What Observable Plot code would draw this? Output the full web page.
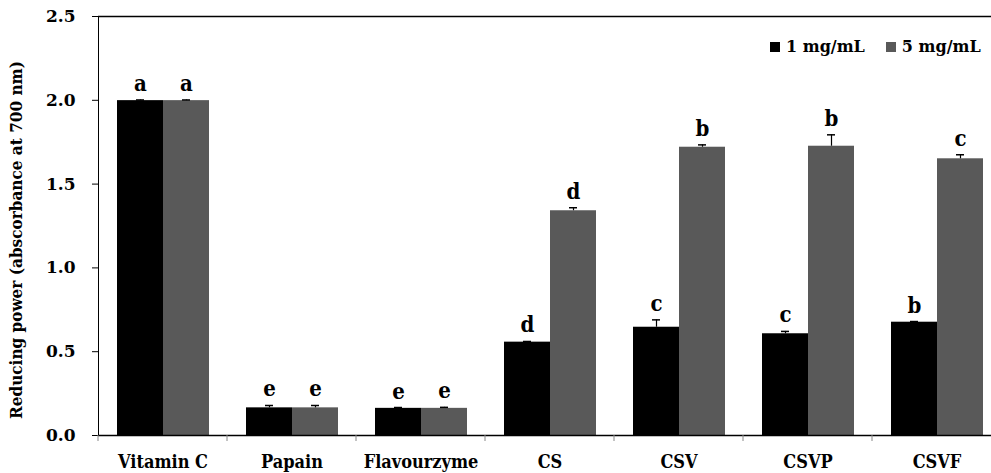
<!DOCTYPE html>
<html>
<head>
<meta charset="utf-8">
<script src="https://cdn.jsdelivr.net/npm/d3@7"></script>
<script src="https://cdn.jsdelivr.net/npm/@observablehq/plot@0.6"></script>
<style>
  html, body { margin: 0; padding: 0; background: #fff; overflow: hidden; }
  #wrap { position: relative; width: 991px; height: 473px; font-family: "DejaVu Serif", serif; font-weight: bold; }
  #ylabel { position: absolute; left: 16px; top: 240px; transform: translate(-50%, -50%) rotate(-90deg); white-space: nowrap; font-family: "DejaVu Serif Condensed", "DejaVu Serif", serif; font-size: 17px; color: #000; }
  #legend { position: absolute; left: 770px; top: 37px; font-size: 16px; white-space: nowrap; display: flex; align-items: center; }
  #legend .sw { display: inline-block; width: 10px; height: 10px; margin-right: 6px; }
  #legend .item { display: flex; align-items: center; margin-right: 21px; }
  svg g[aria-label^="fx-axis"], svg g[aria-label^="fx-axis"] text { font-family: "DejaVu Serif Condensed", "DejaVu Serif", serif; font-size: 18px; }
</style>
</head>
<body>
<div id="wrap">
  <div id="chart"></div>
  <div id="ylabel">Reducing power (abscorbance at 700 nm)</div>
  <div id="legend"></div>
</div>
<script>
const categories = ["Vitamin C", "Papain", "Flavourzyme", "CS", "CSV", "CSVP", "CSVF"];
const series = ["1 mg/mL", "5 mg/mL"];
const seriesColors = ["#000000", "#595959"];
const values1 = [1.998, 0.165, 0.162, 0.557, 0.646, 0.607, 0.676];
const errors1 = [0.004, 0.014, 0.005, 0.004, 0.044, 0.014, 0.004];
const letters1 = ["a", "e", "e", "d", "c", "c", "b"];
const values5 = [1.998, 0.165, 0.162, 1.341, 1.720, 1.726, 1.651];
const errors5 = [0.004, 0.014, 0.006, 0.018, 0.014, 0.068, 0.024];
const letters5 = ["a", "e", "e", "d", "b", "b", "c"];
const yTicks = [0, 0.5, 1.0, 1.5, 2.0, 2.5];

const rows = [];
categories.forEach((c, i) => {
  rows.push({category: c, series: series[0], value: values1[i], err: errors1[i], letter: letters1[i]});
  rows.push({category: c, series: series[1], value: values5[i], err: errors5[i], letter: letters5[i]});
});

const boundaryTicks = (index, scales, values, dimensions) => {
  const y0 = scales.y(0);
  const x = dimensions.marginLeft;
  return d3.create("svg:line")
    .attr("x1", x).attr("x2", x)
    .attr("y1", y0).attr("y2", y0 + 6)
    .attr("stroke", "#888").attr("stroke-width", 1).node();
};

const plot = Plot.plot({
  width: 991,
  height: 473,
  marginLeft: 98,
  marginRight: -10,
  marginTop: 16,
  marginBottom: 38,
  style: {fontFamily: "DejaVu Serif", fontWeight: "bold", fontSize: "17px", color: "#000", background: "#fff"},
  fx: {domain: categories, padding: 0, axis: "bottom", tickSize: 0, tickPadding: 20, label: null},
  x: {domain: series, paddingInner: 0, paddingOuter: 0.39, axis: null},
  y: {domain: [0, 2.5], ticks: yTicks, tickFormat: d3.format(".1f"), tickSize: 6, tickPadding: 17, label: null, line: true},
  color: {domain: series, range: seriesColors},
  marks: [
    Plot.barY(rows, {fx: "category", x: "series", y: "value", fill: "series"}),
    Plot.ruleX(rows, {fx: "category", x: "series", y1: "value", y2: d => d.value + d.err, stroke: "#000", strokeWidth: 1.2}),
    Plot.tickY(rows, {fx: "category", x: "series", y: d => d.value + d.err, stroke: "#000", strokeWidth: 1.5, insetLeft: 19, insetRight: 19}),
    Plot.text(rows, {fx: "category", x: "series", y: d => d.value + d.err, text: "letter", dy: -9, lineAnchor: "bottom", fontSize: 22, fontWeight: "bold", fontFamily: "DejaVu Serif Condensed", fill: "#000"}),
    Plot.ruleY([0], {stroke: "#000", strokeWidth: 1.6}),
    Plot.ruleY([2.5], {stroke: "#000", strokeWidth: 1.4}),
    boundaryTicks
  ]
});
document.getElementById("chart").appendChild(plot);

const legend = document.getElementById("legend");
series.forEach((s, i) => {
  const item = document.createElement("span");
  item.className = "item";
  const sw = document.createElement("span");
  sw.className = "sw";
  sw.style.background = seriesColors[i];
  item.appendChild(sw);
  item.appendChild(document.createTextNode(s));
  legend.appendChild(item);
});
</script>
</body>
</html>
